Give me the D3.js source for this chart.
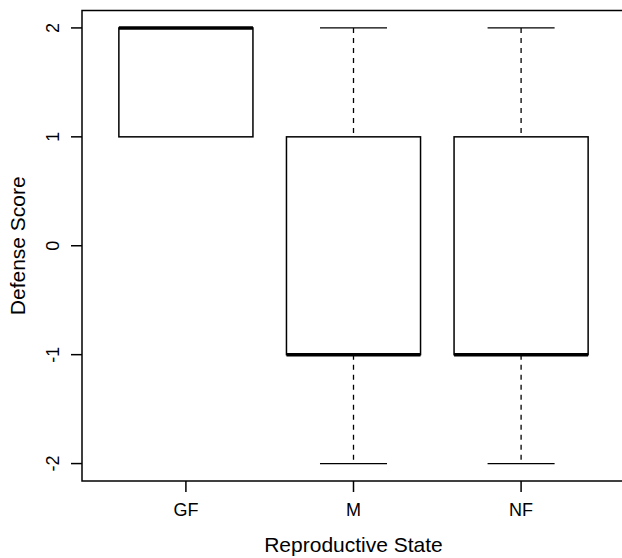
<!DOCTYPE html>
<html>
<head>
<meta charset="utf-8">
<script src="https://cdn.jsdelivr.net/npm/d3@7"></script>
<style>
  body { margin: 0; background: #fff; }
  text { font-family: "Liberation Sans", Arial, sans-serif; fill: #000; }
</style>
</head>
<body>
<svg width="622" height="558"></svg>
<script>
// datos de las cajas
let groups   = ["GF", "M", "NF"];
let whiskLo  = [1, -2, -2];
let q1       = [1, -1, -1];
let medians  = [2, -1, -1];
let q3       = [2, 1, 1];
let whiskHi  = [2, 2, 2];
let yTicks   = [-2, -1, 0, 1, 2];

let svg = d3.select('svg');

let x = d3.scaleLinear().domain([0.38, 3.62]).range([82, 625]);
let y = d3.scaleLinear().domain([-2.16, 2.16]).range([481, 10.5]);

let boxes = groups.map((g, i) => ({
    name: g, pos: i + 1,
    lo: whiskLo[i], q1: q1[i], med: medians[i], q3: q3[i], hi: whiskHi[i]
}));

// marco del grafico
svg.append('rect')
    .attr('x', x(0.38)).attr('y', y(2.16))
    .attr('width', x(3.62) - x(0.38)).attr('height', y(-2.16) - y(2.16))
    .attr('fill', 'none').attr('stroke', '#000').attr('stroke-width', 1.5);

let g = svg.append('g');

let box = g.selectAll('g.box')
    .data(boxes)
    .enter().append('g')
    .attr('class', 'box');

// bigotes punteados
box.filter(d => d.hi > d.q3).append('line')
    .attr('x1', d => x(d.pos)).attr('x2', d => x(d.pos))
    .attr('y1', d => y(d.hi)).attr('y2', d => y(d.q3))
    .attr('stroke', '#000').attr('stroke-width', 1.3).attr('stroke-dasharray', '5,5');
box.filter(d => d.lo < d.q1).append('line')
    .attr('x1', d => x(d.pos)).attr('x2', d => x(d.pos))
    .attr('y1', d => y(d.q1)).attr('y2', d => y(d.lo))
    .attr('stroke', '#000').attr('stroke-width', 1.3).attr('stroke-dasharray', '5,5');

// topes
box.filter(d => d.hi > d.q3).append('line')
    .attr('x1', d => x(d.pos - 0.2)).attr('x2', d => x(d.pos + 0.2))
    .attr('y1', d => y(d.hi)).attr('y2', d => y(d.hi))
    .attr('stroke', '#000').attr('stroke-width', 1.3);
box.filter(d => d.lo < d.q1).append('line')
    .attr('x1', d => x(d.pos - 0.2)).attr('x2', d => x(d.pos + 0.2))
    .attr('y1', d => y(d.lo)).attr('y2', d => y(d.lo))
    .attr('stroke', '#000').attr('stroke-width', 1.3);

// caja
box.append('rect')
    .attr('x', d => x(d.pos - 0.4)).attr('y', d => y(d.q3))
    .attr('width', d => x(d.pos + 0.4) - x(d.pos - 0.4))
    .attr('height', d => y(d.q1) - y(d.q3))
    .attr('fill', '#fff').attr('stroke', '#000').attr('stroke-width', 1.5);

// mediana
box.append('line')
    .attr('x1', d => x(d.pos - 0.4)).attr('x2', d => x(d.pos + 0.4))
    .attr('y1', d => y(d.med)).attr('y2', d => y(d.med))
    .attr('stroke', '#000').attr('stroke-width', 3.5);

/*--- EJES ---*/
let yAxis = svg.append('g');
yAxis.selectAll('line')
    .data(yTicks).enter().append('line')
    .attr('x1', 71).attr('x2', x(0.38))
    .attr('y1', d => y(d)).attr('y2', d => y(d))
    .attr('stroke', '#000').attr('stroke-width', 1.5);
yAxis.selectAll('text')
    .data(yTicks).enter().append('text')
    .attr('transform', d => 'translate(59,' + y(d) + ') rotate(-90)')
    .attr('text-anchor', 'middle')
    .style('font-size', '18px')
    .text(d => d);

let xAxis = svg.append('g');
xAxis.selectAll('line')
    .data(boxes).enter().append('line')
    .attr('x1', d => x(d.pos)).attr('x2', d => x(d.pos))
    .attr('y1', y(-2.16)).attr('y2', y(-2.16) + 11)
    .attr('stroke', '#000').attr('stroke-width', 1.5);
xAxis.selectAll('text')
    .data(boxes).enter().append('text')
    .attr('x', d => x(d.pos)).attr('y', 516)
    .attr('text-anchor', 'middle')
    .style('font-size', '18px')
    .text(d => d.name);

// titulos
svg.append('text')
    .attr('x', x(2)).attr('y', 551.5)
    .attr('text-anchor', 'middle')
    .style('font-size', '21px')
    .text('Reproductive State');
svg.append('text')
    .attr('transform', 'translate(25,' + y(0) + ') rotate(-90)')
    .attr('text-anchor', 'middle')
    .style('font-size', '21px')
    .text('Defense Score');
</script>
</body>
</html>
